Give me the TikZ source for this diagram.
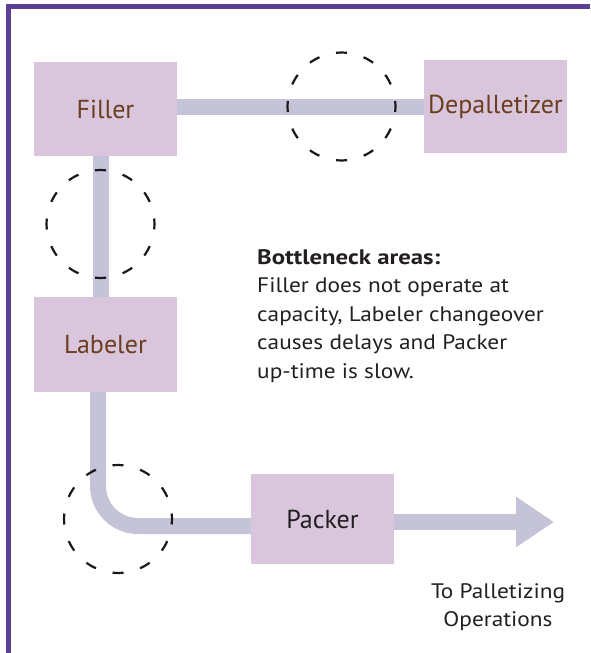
\documentclass[tikz,border=0pt]{standalone}
\usepackage{fontspec}
\setmainfont{PT Sans}
\newfontfamily\notefont{PT Sans}[FakeStretch=1.11, BoldFeatures={FakeStretch=1.18}]
\usetikzlibrary{arrows.meta,calc,positioning}
\definecolor{BoxLilac}{RGB}{217,198,221}
\definecolor{BeltGray}{RGB}{196,195,215}
\definecolor{FrameViolet}{RGB}{91,63,150}
\definecolor{LabelBrown}{RGB}{106,62,30}
\definecolor{InkGray}{RGB}{35,31,32}

\begin{document}
\begin{tikzpicture}[x=1pt, y=-1pt,
	station/.style={rectangle, fill=BoxLilac, minimum width=143pt, minimum height=94pt,
		inner sep=0pt, text=LabelBrown, font=\fontsize{26}{30}\selectfont},
	belt/.style={BeltGray, line width=16pt},
	neck/.style={black!90, line width=2.2pt, dash pattern=on 11pt off 17.27pt, dash phase=5.5pt},
	note/.style={inner sep=0pt, text=InkGray, font=\notefont\fontsize{21}{28.5}\selectfont}]
		\useasboundingbox (0,0) rectangle (590,653);
		% frame
		\draw[FrameViolet, line width=5pt] (8.3,653) -- (8.3,6) -- (590,6);
		% stations
		\node[station] (filler) at (105.5,109) {Filler};
		\node[station, minimum height=93pt] (depal) at (495.5,106.5) {Depalletizer};
		\node[station, minimum height=95pt] (labeler) at (105.5,344.5) {Labeler};
		\node[station, minimum height=90pt, text=InkGray] (packer) at (322.5,519) {Packer};
		\coordinate (exit) at (554,522);
		% belts
		\draw[belt] (filler.east |- 0,107) -- (depal.west |- 0,107);
		\draw[belt] (filler.south -| 101,0) -- (labeler.north -| 101,0);
		\draw[belt, rounded corners=40pt] (labeler.south -| 98,0) -- (98,526) -- (packer.west |- 0,526);
		\draw[belt, -{Triangle[length=38pt, width=48pt]}] (packer.east |- 0,522) -- (exit);
		% bottleneck circles
		\coordinate (neckTop) at (341.5,106.5);
		\coordinate (neckLeft) at (100.5,224);
		\coordinate (neckLow) at (118,519);
		\foreach \n in {neckTop, neckLeft, neckLow}
		\draw[neck] (\n) circle[radius=54pt];
		% texts
		\node[note, align=left, anchor=north west] (notes) at (257,249)
			{\textbf{Bottleneck areas:}\\Filler does not operate at\\capacity, Labeler changeover\\causes delays and Packer\\up-time is slow.};
		\node[note, align=center, anchor=north, font=\notefont\fontsize{21}{28}\selectfont] (dest) at (498,583)
			{To Palletizing\\Operations};
	\end{tikzpicture}
\end{document}
